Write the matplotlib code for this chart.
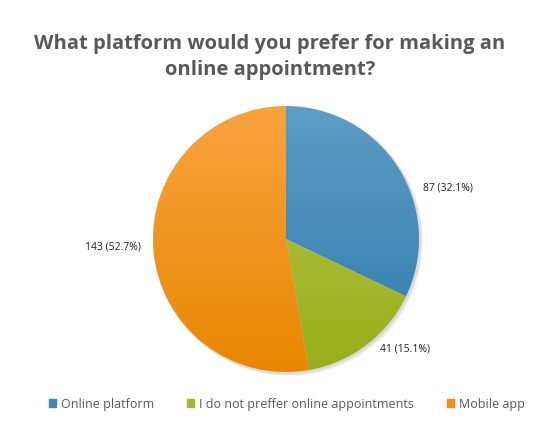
import numpy as np
import matplotlib.pyplot as plt
from matplotlib.colors import LinearSegmentedColormap
from matplotlib.patches import Circle

title = "What platform would you prefer for making an\nonline appointment?"
categories = ["Online platform", "I do not preffer online appointments", "Mobile app"]
counts = [87, 41, 143]
percents = [32.1, 15.1, 52.7]
top_colors = ["#5e9cc6", "#b6c94e", "#f9a33f"]
bottom_colors = ["#2c7cab", "#98ae18", "#e88700"]
legend_colors = ["#3a85ba", "#a1bb2a", "#f68c1c"]

# label placement (polar, from pie centre, in pixels)
label_pos = [(17.5, 170), (-42.7, 162), (182.6, 173)]

W, H = 557, 436
cx, cy, R = 286, H - 239, 133

fig = plt.figure(figsize=(W / 100, H / 100), dpi=100)
ax = fig.add_axes([0, 0, 1, 1])

# soft shadow
for i in range(3):
    ax.add_patch(Circle((cx + 1 + i, cy - 1 - i), R + 1, color="k", alpha=0.05, lw=0, zorder=0))

wedges, _ = ax.pie(counts, startangle=90, counterclock=False, radius=R,
                   center=(cx, cy), frame=True,
                   wedgeprops=dict(linewidth=0))

grad = np.linspace(0, 1, 256).reshape(-1, 1)
for w, c0, c1 in zip(wedges, top_colors, bottom_colors):
    w.set_facecolor("none")
    cmap = LinearSegmentedColormap.from_list("g", [c0, c1])
    im = ax.imshow(grad, cmap=cmap, aspect="auto", origin="upper",
                   extent=(cx - R, cx + R, cy - R, cy + R), zorder=2)
    im.set_clip_path(w)

for n, p, (ang, r) in zip(counts, percents, label_pos):
    t = np.deg2rad(ang)
    ax.text(cx + r * np.cos(t), cy + r * np.sin(t),
            f"{n} ({p:.1f}%)", ha="center", va="center",
            fontsize=7.5, family="Open Sans", color="#222222", zorder=3)

ax.set_xlim(0, W)
ax.set_ylim(0, H)
ax.set_aspect("equal")
ax.axis("off")

fig.text(270 / W, 1 - 57 / H, title, ha="center", va="center", fontsize=14.5,
         fontweight="bold", family="Open Sans", color="#595959", linespacing=1.45)

handles = [plt.Rectangle((0, 0), 1, 1, color=c) for c in legend_colors]
fig.legend(handles, categories, loc="center", bbox_to_anchor=(0.515, 1 - 404 / H),
           ncol=3, frameon=False, handlelength=0.6, handleheight=0.6,
           handletextpad=0.4, columnspacing=2.6,
           prop=dict(family="Open Sans", size=9), labelcolor="#595959")

fig.savefig("out.png", dpi=100)
